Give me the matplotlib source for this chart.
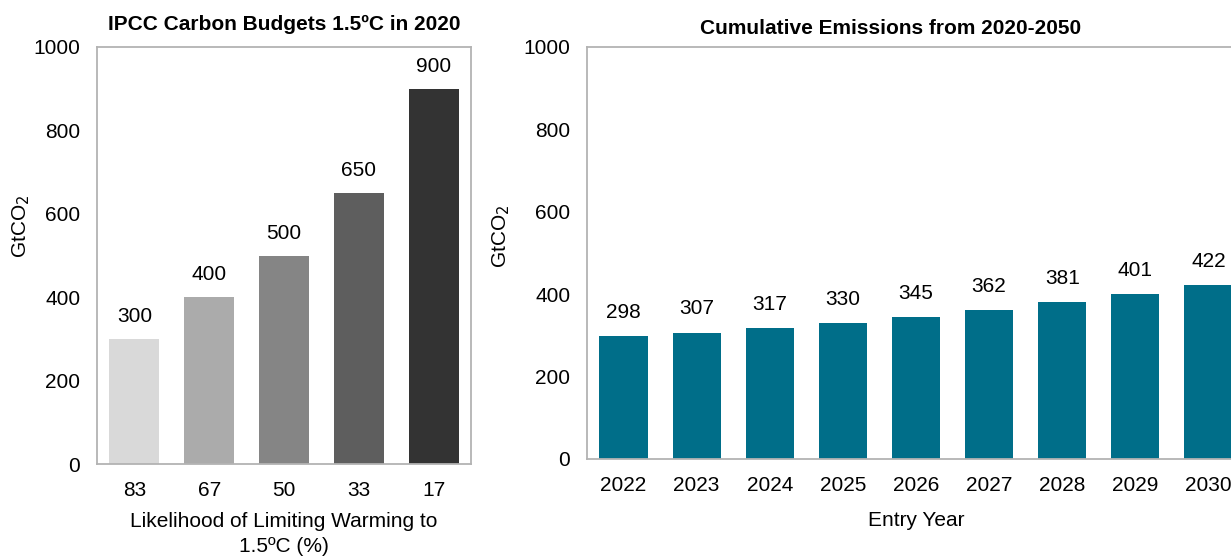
import matplotlib
matplotlib.use("Agg")
import matplotlib.pyplot as plt

plt.rcParams['font.family'] = ['Liberation Sans', 'DejaVu Sans']

# Left panel data
likelihood = ["83", "67", "50", "33", "17"]
budgets = [300, 400, 500, 650, 900]
left_colors = ["#D9D9D9", "#ABABAB", "#858585", "#5E5E5E", "#333333"]

# Right panel data
entry_years = ["2022", "2023", "2024", "2025", "2026", "2027", "2028", "2029", "2030"]
cumulative = [298, 307, 317, 330, 345, 362, 381, 401, 422]
right_color = "#006E89"

W, H = 1231, 557
fig = plt.figure(figsize=(W / 100, H / 100), dpi=100)

def ax_at(l, r, b, t):
    return fig.add_axes([l / W, 1 - b / H, (r - l) / W, (b - t) / H])

spine_col = "#B3B3B3"
fs = 15

def style(ax):
    for s in ax.spines.values():
        s.set_color(spine_col)
        s.set_linewidth(1.3)
    ax.tick_params(length=0, labelsize=fs, colors="black")
    ax.tick_params(axis="x", pad=12)
    ax.tick_params(axis="y", pad=12)
    ax.set_ylim(0, 1000)
    ax.set_yticks([0, 200, 400, 600, 800, 1000])

# Left
ax1 = ax_at(97, 471, 464, 47)
x1 = range(len(likelihood))
ax1.bar(x1, budgets, width=0.67, color=left_colors)
ax1.set_xlim(-0.5, len(likelihood) - 0.5)
ax1.set_xticks(list(x1))
ax1.set_xticklabels(likelihood)
style(ax1)
for xi, v in zip(x1, budgets):
    ax1.annotate(str(v), (xi, v), xytext=(0, 16), textcoords="offset points",
                 ha="center", va="center", fontsize=fs)
ax1.set_title("IPCC Carbon Budgets 1.5ºC in 2020", fontsize=15, fontweight="bold", pad=12)
ax1.set_ylabel("GtCO$_2$", fontsize=fs)
ax1.yaxis.set_label_coords(-65 / 374, 0.57)
ax1.set_xlabel("Likelihood of Limiting Warming to\n1.5ºC (%)", fontsize=fs, labelpad=9, linespacing=1.4)

# Right
ax2 = ax_at(587, 1245, 459, 47)
x2 = range(len(entry_years))
ax2.bar(x2, cumulative, width=0.66, color=right_color)
ax2.set_xlim(-0.5, len(entry_years) - 0.5)
ax2.set_xticks(list(x2))
ax2.set_xticklabels(entry_years)
style(ax2)
for xi, v in zip(x2, cumulative):
    ax2.annotate(str(v), (xi, v), xytext=(0, 17), textcoords="offset points",
                 ha="center", va="center", fontsize=fs)
ax2.set_ylabel("GtCO$_2$", fontsize=fs)
ax2.yaxis.set_label_coords(-75 / 658, 0.54)
ax2.set_xlabel("Entry Year", fontsize=fs, labelpad=12)
fig.text(891 / W, 1 - 29 / H, "Cumulative Emissions from 2020-2050", ha="center", va="center",
         fontsize=15, fontweight="bold")

fig.savefig("out.png", dpi=100)
